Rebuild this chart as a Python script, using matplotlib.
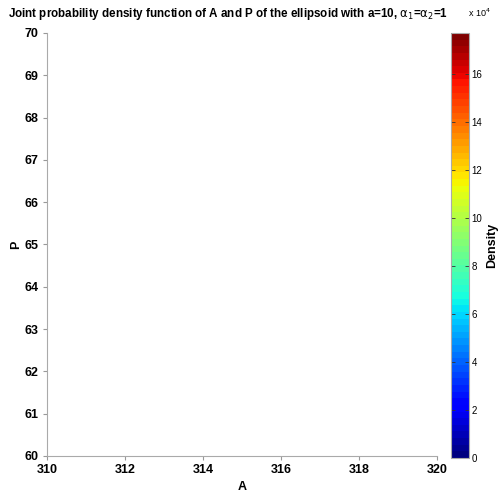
import matplotlib
matplotlib.use("Agg")
import matplotlib.pyplot as plt
import numpy as np
from matplotlib import cm, colors

plt.rcParams['font.family'] = ['Liberation Sans', 'DejaVu Sans']

x_range = [310, 320]
y_range = [60, 70]
x_ticks = [310, 312, 314, 316, 318, 320]
y_ticks = [60, 61, 62, 63, 64, 65, 66, 67, 68, 69, 70]
cbar_max = 177000
cbar_ticks = [0, 2e4, 4e4, 6e4, 8e4, 10e4, 12e4, 14e4, 16e4]
cbar_labels = ['0', '2', '4', '6', '8', '10', '12', '14', '16']

W, H = 499, 492
fig = plt.figure(figsize=(W / 100, H / 100), dpi=100)
ax = fig.add_axes([47 / W, (H - 456) / H, (437 - 47) / W, (456 - 33) / H])
ax.set_xlim(x_range)
ax.set_ylim(y_range)
ax.set_xticks(x_ticks)
ax.set_yticks(y_ticks)
ax.tick_params(labelsize=9, length=3, color='#999999', width=0.8, pad=3)
for t in ax.get_xticklabels() + ax.get_yticklabels():
    t.set_fontweight('bold')
for s in ['top', 'right']:
    ax.spines[s].set_visible(False)
for s in ['left', 'bottom']:
    ax.spines[s].set_color('#aaaaaa')
ax.set_xlabel('A', fontsize=9, fontweight='bold', labelpad=3)
ax.set_ylabel('P', fontsize=9, fontweight='bold', labelpad=2)
fig.text(8 / W, 1 - 14 / H,
         r'Joint probability density function of A and P of the ellipsoid with a=10, $\mathrm{\alpha}_1$=$\mathrm{\alpha}_2$=1',
         fontsize=8.4, fontweight='bold', ha='left', va='center')

cax = fig.add_axes([451 / W, (H - 458) / H, 18 / W, (458 - 33) / H])
norm = colors.Normalize(vmin=0, vmax=cbar_max)
cmap = plt.get_cmap('jet', 64)
cb = fig.colorbar(cm.ScalarMappable(norm=norm, cmap=cmap), cax=cax)
cb.set_ticks(cbar_ticks)
cb.set_ticklabels(cbar_labels)
cax.yaxis.set_ticks_position('both')
cax.yaxis.set_label_position('right')
cb.ax.tick_params(labelsize=7, length=3, direction='in', color='#333333', width=0.6,
                  left=True, right=True, labelleft=False, labelright=True, pad=2)
cb.outline.set_edgecolor('#aaaaaa')
fig.text(492 / W, 1 - 245 / H, 'Density', fontsize=9, fontweight='bold',
         rotation=90, ha='center', va='center')
fig.text(468 / W, 1 - 13 / H, r'x 10$^{4}$', fontsize=6.5, va='center', ha='left')

fig.savefig('out.png', dpi=100)
